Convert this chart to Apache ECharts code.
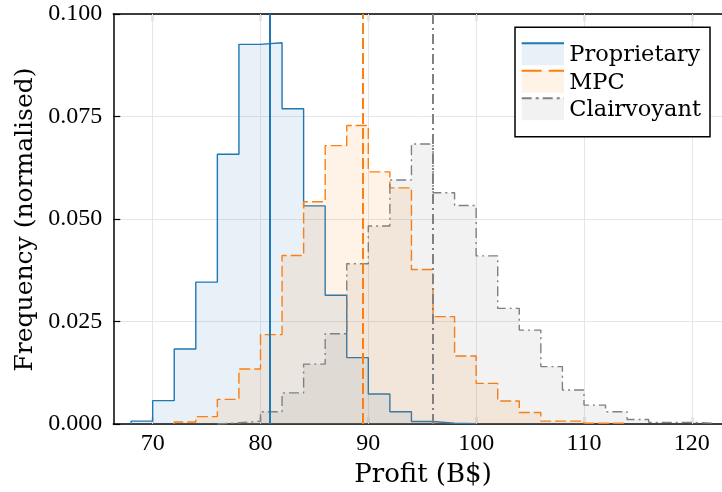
<!DOCTYPE html>
<html><head><meta charset="utf-8">
<script src="https://cdn.jsdelivr.net/npm/echarts@6/dist/echarts.min.js"></script>
<style>html,body{margin:0;padding:0;background:#fff}#c{width:722px;height:492px}</style>
</head><body><div id="c"></div>
<script>
const seriesNames = ['Proprietary', 'MPC', 'Clairvoyant'];
const binWidth = 2;
const propStart = 68;
const propValues = [0.0007, 0.0057, 0.0183, 0.0346, 0.0658, 0.0926, 0.0930, 0.0769, 0.0532, 0.0314, 0.0162, 0.0073, 0.0030, 0.0006, 0.0002, 0.0001];
const mpcStart = 72;
const mpcValues = [0.0005, 0.0018, 0.0060, 0.0134, 0.0218, 0.0411, 0.0542, 0.0679, 0.0728, 0.0615, 0.0576, 0.0377, 0.0262, 0.0166, 0.0099, 0.0056, 0.0028, 0.0007, 0.0007, 0.0002, 0.0002];
const clairStart = 76;
const clairValues = [0.0003, 0.0007, 0.0030, 0.0076, 0.0146, 0.0220, 0.0391, 0.0483, 0.0595, 0.0683, 0.0564, 0.0533, 0.0410, 0.0282, 0.0229, 0.0140, 0.0083, 0.0046, 0.0030, 0.0011, 0.0004, 0.0004, 0.0002];
const means = [80.88, 89.44, 95.94];
const xTicks = [70, 80, 90, 100, 110, 120];
const yTicks = [0, 0.025, 0.05, 0.075, 0.1];

const colors = ['#1f77b4', '#ff7f0e', '#808080'];
const dashes = ['solid', [11, 4], [10, 4, 2, 4]];
const X_MIN = 66.35, X_MAX = 122.8;

function stepPoints(start, w, vals) {
  const pts = [];
  for (let i = 0; i < vals.length; i++) {
    const a = start + i * w, b = a + w;
    pts.push([a, vals[i]]);
    pts.push([b, vals[i]]);
  }
  pts.unshift([start, 0]);
  pts.push([start + vals.length * w, 0]);
  return pts;
}
const hists = [
  stepPoints(propStart, binWidth, propValues),
  stepPoints(mpcStart, binWidth, mpcValues),
  stepPoints(clairStart, binWidth, clairValues)
];

const tickFont = 'Liberation Serif';
const textFont = 'DejaVu Serif';

const series = [{
  type: 'line', data: [], xAxisIndex: 0, yAxisIndex: 0, silent: true,
  markLine: {
    z: 1, symbol: 'none', silent: true, label: { show: false },
    lineStyle: { color: '#e6e6e6', width: 1, type: 'solid' },
    data: xTicks.map(v => ({ xAxis: v }))
  }
}];
hists.forEach((pts, i) => {
  series.push({
    name: seriesNames[i], type: 'line', data: pts, z: 2 + i,
    showSymbol: false, symbol: 'none', silent: true, animation: false,
    lineStyle: { color: colors[i], width: 1.4, type: dashes[i] },
    areaStyle: { color: colors[i], opacity: 0.1 }
  });
});
means.forEach((m, i) => {
  series.push({
    type: 'line', data: [], silent: true,
    markLine: {
      z: 10, symbol: 'none', silent: true, label: { show: false }, animation: false,
      lineStyle: { color: colors[i], width: 2, type: dashes[i] },
      data: [{ xAxis: m }]
    }
  });
});

// legend
const lg = { x: 515, y: 27.3, w: 195, h: 109.4 };
const graphic = [{
  type: 'rect', z: 100, shape: { x: lg.x, y: lg.y, width: lg.w, height: lg.h },
  style: { fill: '#fff', stroke: '#000', lineWidth: 1.5 }
}];
const rowTops = [43.3, 70.7, 98.3];
seriesNames.forEach((n, i) => {
  const top = rowTops[i];
  graphic.push({ type: 'rect', z: 101, shape: { x: 521.7, y: top, width: 42.3, height: 22 },
    style: { fill: colors[i], opacity: 0.1 } });
  graphic.push({ type: 'line', z: 102, shape: { x1: 521.7, y1: top, x2: 564, y2: top },
    style: { stroke: colors[i], lineWidth: 2, lineDash: i === 0 ? null : (i === 1 ? [20, 7] : [10, 4, 3, 4]) } });
  graphic.push({ type: 'text', z: 102, style: { text: n, x: 569.3, y: top + 12, fill: '#000',
    font: '22.5px "' + textFont + '"', textAlign: 'left', textVerticalAlign: 'middle' } });
});
graphic.push({ type: 'text', z: 102, style: { text: 'Profit (B$)', x: 423, y: 475, fill: '#000',
  font: '26px "' + textFont + '"', textAlign: 'center', textVerticalAlign: 'middle' } });
graphic.push({ type: 'text', z: 102, rotation: Math.PI / 2, x: 25.5, y: 219.5,
  style: { text: 'Frequency (normalised)', x: 0, y: 0, fill: '#000',
  font: '25px "' + textFont + '"', textAlign: 'center', textVerticalAlign: 'middle' } });

const chart = echarts.init(document.getElementById('c'), null, { renderer: 'canvas' });
chart.setOption({
  animation: false,
  backgroundColor: '#fff',
  grid: { left: 113.3, top: 14, right: 0, bottom: 68, containLabel: false, outerBoundsMode: 'none' },
  xAxis: [{
    type: 'value', min: X_MIN, max: X_MAX, position: 'bottom',
    axisLine: { show: true, onZero: false, lineStyle: { color: '#000', width: 1.5 } },
    axisTick: { show: true, inside: true, length: 7, customValues: xTicks, lineStyle: { color: '#000', width: 1.2 } },
    axisLabel: { customValues: xTicks, margin: 8, color: '#000', fontFamily: tickFont, fontSize: 24, showMinLabel: true, showMaxLabel: true },
    splitLine: { show: false }
  }, {
    type: 'value', min: X_MIN, max: X_MAX, position: 'top',
    axisLine: { show: true, onZero: false, lineStyle: { color: '#000', width: 1.5 } },
    axisTick: { show: true, inside: true, length: 7, customValues: xTicks, lineStyle: { color: '#000', width: 1.2 } },
    axisLabel: { show: false },
    splitLine: { show: false }
  }],
  yAxis: {
    type: 'value', min: 0, max: 0.1, interval: 0.025,
    axisLine: { show: true, onZero: false, lineStyle: { color: '#000', width: 1.5 } },
    axisTick: { show: true, inside: true, length: 7, lineStyle: { color: '#000', width: 1.2 } },
    axisLabel: { margin: 11, color: '#000', fontFamily: tickFont, fontSize: 24, formatter: v => v.toFixed(3) },
    splitLine: { show: true, lineStyle: { color: '#e6e6e6', width: 1 } }
  },
  series: series,
  graphic: graphic
});
</script></body></html>
